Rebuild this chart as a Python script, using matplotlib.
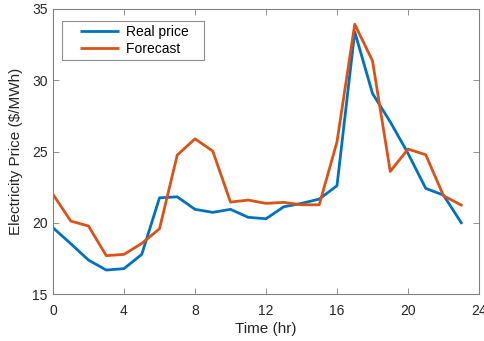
import numpy as np
import matplotlib.pyplot as plt
from matplotlib.legend_handler import HandlerBase
from matplotlib.lines import Line2D

plt.rcParams['font.family'] = ['Liberation Sans', 'DejaVu Sans']

# Hourly prices
hours = np.arange(24)
real_price = [19.65, 18.53, 17.38, 16.68, 16.78, 17.78, 21.75, 21.82, 20.94, 20.73,
              20.94, 20.38, 20.28, 21.12, 21.36, 21.66, 22.6, 33.4, 29.07, 27.08,
              24.87, 22.41, 21.94, 20.0]
forecast = [21.99, 20.12, 19.77, 17.69, 17.78, 18.55, 19.58, 24.75, 25.89, 25.03,
            21.45, 21.59, 21.36, 21.43, 21.26, 21.26, 25.68, 33.93, 31.36, 23.6,
            25.17, 24.77, 21.9, 21.24]
x_ticks = [0, 4, 8, 12, 16, 20, 24]
y_ticks = [15, 20, 25, 30, 35]


# MATLAB-like legend entry: short line with some blank space on the left
class PaddedLine(HandlerBase):
    def create_artists(self, legend, orig, xdescent, ydescent, width, height,
                       fontsize, trans):
        y = height / 2 - ydescent
        line = Line2D([-xdescent + 0.25 * width, -xdescent + 0.95 * width], [y, y])
        self.update_prop(line, orig, legend)
        line.set_solid_capstyle('butt')
        line.set_transform(trans)
        return [line]


fig = plt.figure(figsize=(4.85, 3.41), dpi=100)
ax = fig.add_axes([53 / 485, 47 / 341, 426 / 485, 285 / 341])

ax.plot(hours, real_price, color='#0072BD', lw=2, label='Real price')
ax.plot(hours, forecast, color='#D95319', lw=2, label='Forecast')

ax.set_xlim(0, 24)
ax.set_ylim(15, 35)
ax.set_xticks(x_ticks)
ax.set_yticks(y_ticks)
ax.tick_params(direction='in', top=True, right=True, length=4, width=0.6,
               color='#808080', labelsize=10, labelcolor='#262626')
ax.tick_params(axis='x', pad=7)
ax.tick_params(axis='y', pad=4)
for s in ax.spines.values():
    s.set_color('#808080')
    s.set_linewidth(0.8)

ax.set_xlabel('Time (hr)', fontsize=11, color='#262626', labelpad=3)
ax.set_ylabel('Electricity Price ($/MWh)', fontsize=11, color='#262626', labelpad=6)

leg = ax.legend(loc='upper left', bbox_to_anchor=(0.021, 0.958), fontsize=10,
                fancybox=False, framealpha=1, handlelength=4.0, borderpad=0.3,
                labelspacing=0.2, handletextpad=0.3, borderaxespad=0,
                handler_map={Line2D: PaddedLine()})
for t in leg.get_texts():
    t.set_text(t.get_text() + '   ')
leg.get_frame().set_edgecolor('#8c8c8c')
leg.get_frame().set_linewidth(0.8)

fig.savefig('out.png', dpi=100)
